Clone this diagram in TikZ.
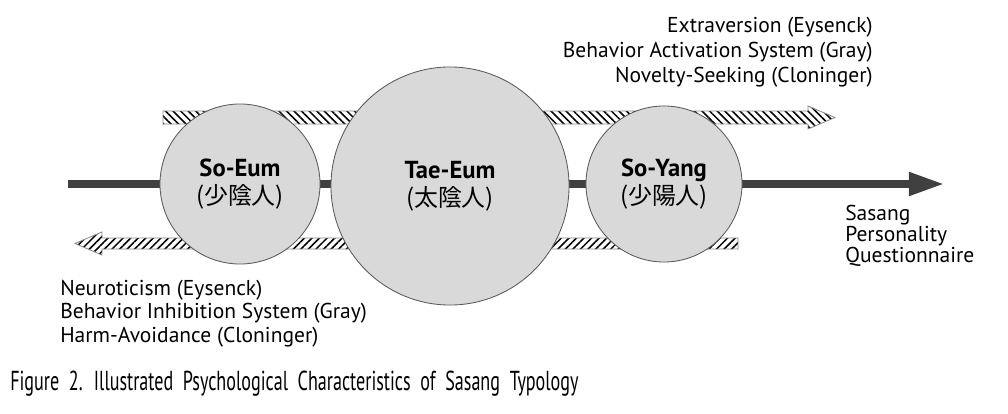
\documentclass[tikz,border=0pt]{standalone}
\usepackage{fontspec}
\setmainfont{PT Sans}
\newfontfamily\hanja{Noto Sans CJK KR}
\newfontfamily\capfont[FakeStretch=0.66,WordSpace=2]{PT Sans}
\usetikzlibrary{arrows.meta,patterns.meta}
\definecolor{bar}{HTML}{404040}
\definecolor{disc}{HTML}{D9D9D9}

\begin{document}
\begin{tikzpicture}[x=0.025cm,y=-0.025cm,color=black,
  person/.style={draw=black!65,fill=disc,circle,inner sep=0pt,line width=0.6pt,align=center,font=\bfseries\fontsize{17.5}{20}\selectfont},
  trait/.style={inner sep=0pt,font=\fontsize{15.3}{17}\selectfont},
  hatch/.style={draw=black!45,line width=0.6pt,pattern={Lines[angle=#1,distance=3.8pt,line width=1.1pt]}}]

\useasboundingbox (0,0) rectangle (1008,414);

% hatched arrows
\draw[hatch=-45] (163,111) -- (808,111) -- (808,106) -- (835,117.5) -- (808,129) -- (808,124) -- (163,124) -- cycle;

\draw[hatch=45] (738,238) -- (102,238) -- (102,232) -- (75,243.5) -- (102,255) -- (102,249) -- (738,249) -- cycle;

% main axis
\coordinate (start) at (68,184);
\coordinate (end) at (944,184);
\draw[bar,line width=5pt,-{Triangle[length=0.88cm,width=0.56cm]}] (start) -- (end);

\node (soeum) at (240,184)[person,minimum size=4cm]{So-Eum\\{\hanja\mdseries\fontsize{17}{20}\selectfont (少陰人)}};

\node (taeeum) at (450,186)[person,minimum size=5.95cm]{Tae-Eum\\{\hanja\mdseries\fontsize{17}{20}\selectfont (太陰人)}};

\node (soyang) at (664,184)[person,minimum size=3.9cm]{So-Yang\\{\hanja\mdseries\fontsize{17}{20}\selectfont (少陽人)}};

\node (ext) at (873,32)[trait,anchor=base east]{Extraversion (Eysenck)};
\node (bas) at (873,57)[trait,anchor=base east]{Behavior Activation System (Gray)};
\node (nov) at (873,82)[trait,anchor=base east]{Novelty-Seeking (Cloninger)};

\node (neu) at (60,295)[trait,anchor=base west]{Neuroticism (Eysenck)};
\node (bis) at (60,318)[trait,anchor=base west]{Behavior Inhibition System (Gray)};
\node (harm) at (60,342)[trait,anchor=base west]{Harm-Avoidance (Cloninger)};

\node (spq) at (845,205)[trait,anchor=north west,align=left,font=\fontsize{15.3}{13.4}\selectfont]{Sasang\\Personality\\Questionnaire};

\node (cap) at (10,390)[inner sep=0pt,anchor=base west,font=\capfont\fontsize{19.5}{22}\selectfont]{Figure 2. Illustrated Psychological Characteristics of Sasang Typology};

\end{tikzpicture}
\end{document}
